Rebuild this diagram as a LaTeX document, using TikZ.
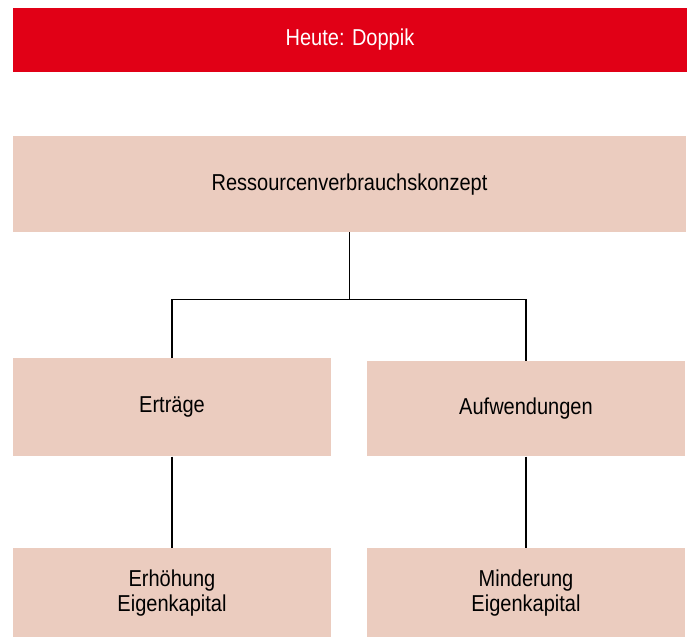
\documentclass[tikz,border=0pt]{standalone}
\usepackage{fontspec}
\setmainfont{Liberation Sans}[FakeStretch=0.87]
\definecolor{redbar}{HTML}{E10016}
\definecolor{boxc}{HTML}{EBCCBF}
\begin{document}
\begin{tikzpicture}[x=1pt,y=-1pt,
  box/.style={fill=boxc, draw=none, inner sep=0pt, align=center, font=\fontsize{23}{25.5}\selectfont, text=black},
  conn/.style={draw=black, line width=1.2pt}]
\useasboundingbox (0,0) rectangle (694,637);
\begin{scope}
\clip (0,0) rectangle (694,637);
\node[fill=redbar, inner sep=0pt, minimum width=673.4pt, minimum height=64pt, text=white, font=\fontsize{23}{24}\selectfont] (heute) at (350,40) {Heute: Doppik};
\node[box, minimum width=673pt, minimum height=95.5pt] (ress) at (349.5,184.2) {Ressourcenverbrauchskonzept};
\node[box, minimum width=318pt, minimum height=98pt] (ertr) at (172,407.3) {Erträge};
\node[box, minimum width=318pt, minimum height=95.6pt] (aufw) at (526,408.5) {Aufwendungen};
\node[box, minimum width=318pt, minimum height=90.3pt] (erh) at (172,593) {Erhöhung\\Eigenkapital};
\node[box, minimum width=318pt, minimum height=90.3pt] (mind) at (526,593) {Minderung\\Eigenkapital};
\end{scope}
\draw[conn] (ress.south) -- ++(0,67.7) coordinate (j);
\draw[conn] (ertr.north) |- (j) -| (aufw.north);
\draw[conn] (ertr.south) -- (erh.north);
\draw[conn] (aufw.south) -- (mind.north);
\end{tikzpicture}
\end{document}
